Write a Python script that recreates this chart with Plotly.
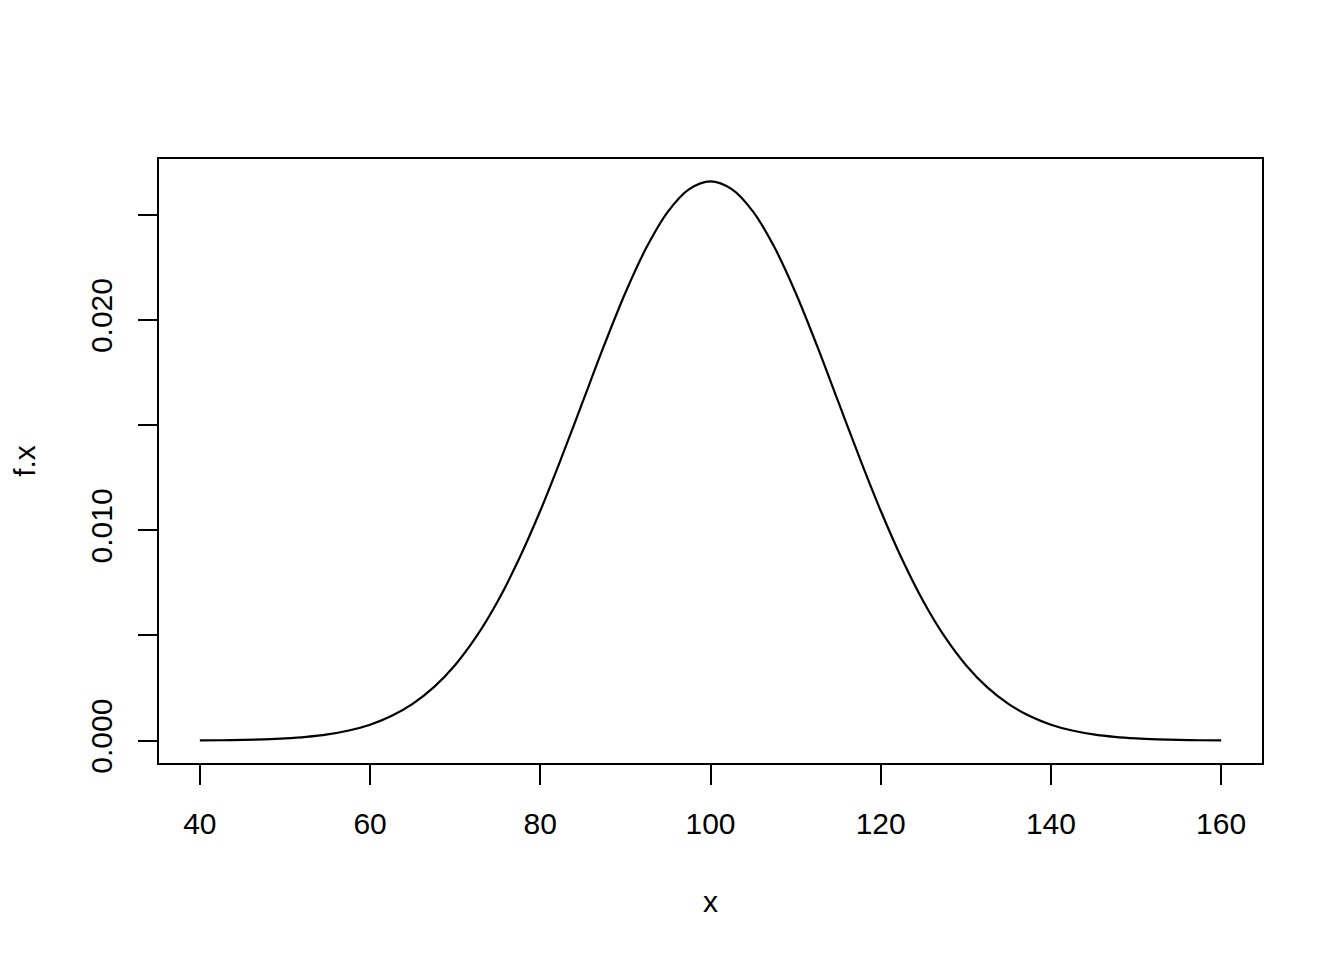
import plotly.graph_objects as go

# values (density curve)
x_vals = [40, 42.5, 45, 47.5, 50, 52.5, 55, 57.5, 60, 62.5, 65, 67.5, 70,
          72.5, 75, 77.5, 80, 82.5, 85, 87.5, 90, 92.5, 95, 97.5, 100,
          102.5, 105, 107.5, 110, 112.5, 115, 117.5, 120, 122.5, 125, 127.5,
          130, 132.5, 135, 137.5, 140, 142.5, 145, 147.5, 150, 152.5, 155,
          157.5, 160]
fx_vals = [0.0000089, 0.0000172, 0.000032, 0.0000582, 0.000103, 0.000177,
           0.000295, 0.000480, 0.000758, 0.001169, 0.00175, 0.002544, 0.00360,
           0.004955, 0.00663, 0.008636, 0.01093, 0.013466, 0.01613, 0.018793,
           0.02130, 0.023471, 0.02516, 0.026229, 0.02660,
           0.026229, 0.02516, 0.023471, 0.02130, 0.018793, 0.01613, 0.013466,
           0.01093, 0.008636, 0.00663, 0.004955, 0.00360, 0.002544, 0.00175,
           0.001169, 0.000758, 0.000480, 0.000295, 0.000177, 0.000103,
           0.0000582, 0.000032, 0.0000172, 0.0000089]

x_ticks = [40, 60, 80, 100, 120, 140, 160]
y_ticks = [0.000, 0.005, 0.010, 0.015, 0.020, 0.025]
y_ticktext = ["0.000", "", "0.010", "", "0.020", ""]

font = "Liberation Sans, Arial, sans-serif"

fig = go.Figure()
fig.add_trace(go.Scatter(x=x_vals, y=fx_vals, mode="lines",
                         line=dict(color="black", width=2.2, shape="spline", smoothing=1),
                         showlegend=False, hoverinfo="skip"))

fig.update_layout(
    width=1344, height=960,
    paper_bgcolor="white", plot_bgcolor="white",
    margin=dict(l=151, r=90, t=151, b=205, autoexpand=False),
    font=dict(family=font, size=30, color="black"),
)
fig.update_xaxes(
    range=[35.2, 164.8], tickvals=x_ticks, ticktext=[str(v) for v in x_ticks],
    showgrid=False, zeroline=False, showline=True, linecolor="black", linewidth=2,
    mirror=True, ticks="outside", ticklen=20, tickwidth=2, tickcolor="black",
    tickfont=dict(size=30), ticklabelstandoff=13,
    title=dict(text="x", standoff=52, font=dict(size=30)),
)
fig.update_yaxes(
    range=[-0.001064, 0.027660], tickvals=y_ticks, ticktext=y_ticktext,
    tickangle=-90,
    showgrid=False, zeroline=False, showline=True, linecolor="black", linewidth=2,
    mirror=True, ticks="outside", ticklen=19, tickwidth=2, tickcolor="black",
    tickfont=dict(size=30), ticklabelstandoff=14,
    title=dict(text="f.x", standoff=49, font=dict(size=30)),
)

fig.write_html("out.html")
